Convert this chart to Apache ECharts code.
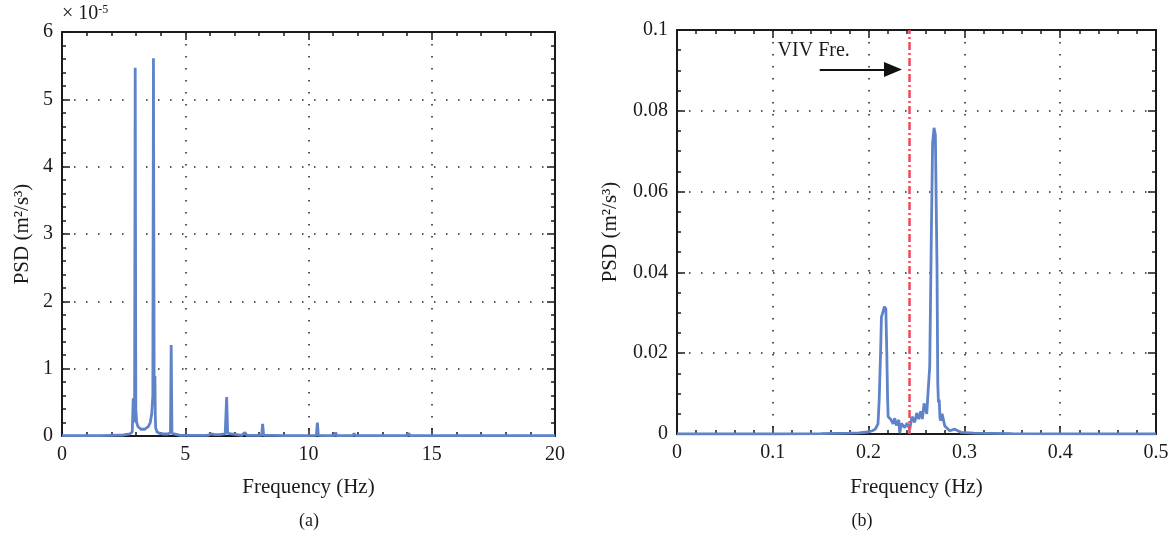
<!DOCTYPE html>
<html>
<head>
<meta charset="utf-8">
<script src="https://cdn.jsdelivr.net/npm/echarts@6/dist/echarts.min.js"></script>
<style>
html,body{margin:0;padding:0;background:#fff;}
#chart{width:1176px;height:539px;}
</style>
</head>
<body>
<div id="chart"></div>
<script>
// ---- Panel (a): PSD in units of 1e-5 m^2/s^3 ----
const freqA = [0, 0.5, 0.75, 0.8, 0.85, 1.5, 2.0, 2.5, 2.75, 2.85, 2.89, 2.92, 2.945, 2.97, 2.995, 3.03, 3.08, 3.2, 3.35, 3.5, 3.58, 3.64, 3.685, 3.71, 3.74, 3.77, 3.785, 3.8, 3.86, 3.95, 4.1, 4.3, 4.4, 4.43, 4.46, 4.52, 4.8, 5.3, 5.9, 6.05, 6.2, 6.4, 6.62, 6.68, 6.72, 6.8, 7.3, 7.42, 7.5, 8.1, 8.14, 8.18, 8.6, 9.0, 9.5, 10.0, 10.32, 10.36, 10.4, 10.6, 11.05, 11.1, 11.15, 11.8, 11.85, 11.9, 12.5, 13.5, 14.0, 14.06, 14.12, 15, 16, 17.7, 17.75, 17.8, 19, 20];
const psdA  = [0.005, 0.005, 0.005, 0.03, 0.005, 0.005, 0.01, 0.015, 0.03, 0.06, 0.56, 0.2, 0.5, 5.47, 0.4, 0.2, 0.14, 0.1, 0.1, 0.14, 0.2, 0.33, 0.6, 5.61, 0.5, 0.89, 0.3, 0.12, 0.06, 0.04, 0.03, 0.03, 0.05, 1.35, 0.04, 0.02, 0.01, 0.01, 0.01, 0.03, 0.02, 0.02, 0.03, 0.58, 0.04, 0.02, 0.01, 0.05, 0.01, 0.01, 0.18, 0.01, 0.01, 0.005, 0.005, 0.005, 0.01, 0.2, 0.01, 0.005, 0.005, 0.05, 0.005, 0.005, 0.04, 0.005, 0.005, 0.005, 0.005, 0.04, 0.005, 0.005, 0.005, 0.005, 0.02, 0.005, 0.005, 0.005];

// ---- Panel (b): PSD in m^2/s^3 ----
const freqB = [0, 0.1, 0.15, 0.18, 0.19, 0.2, 0.204, 0.207, 0.2098, 0.211, 0.2125, 0.2134, 0.215, 0.2165, 0.218, 0.219, 0.2198, 0.2204, 0.2232, 0.2256, 0.2273, 0.229, 0.2315, 0.2325, 0.2342, 0.2359, 0.2377, 0.2401, 0.2429, 0.2453, 0.2481, 0.2502, 0.2523, 0.2544, 0.2561, 0.2579, 0.2593, 0.2607, 0.2621, 0.2638, 0.2655, 0.2668, 0.2683, 0.2697, 0.2714, 0.2722, 0.2729, 0.2737, 0.2745, 0.2753, 0.2767, 0.2795, 0.2847, 0.2899, 0.2968, 0.31, 0.35, 0.5];
const psdB  = [0, 0, 0.0001, 0.0002, 0.0003, 0.0005, 0.0008, 0.0012, 0.0025, 0.008, 0.02, 0.029, 0.0302, 0.0315, 0.031, 0.02, 0.009, 0.0043, 0.0036, 0.0025, 0.0039, 0.0021, 0.0035, 0.0002, 0.0026, 0.003, 0.0016, 0.0027, 0.0012, 0.0043, 0.0029, 0.0052, 0.0037, 0.0056, 0.0037, 0.0076, 0.008, 0.005, 0.0105, 0.0166, 0.0496, 0.072, 0.0758, 0.074, 0.0413, 0.0125, 0.0078, 0.0085, 0.004, 0.0033, 0.005, 0.002, 0.0008, 0.0012, 0.0004, 0.0002, 0.0001, 0];

const vivFreq = 0.242;
const arrowStart = [0.149, 0.0902];
const arrowEnd = [0.2255, 0.0902];
const vivLabelPos = [0.105, 0.0949];

const xTicksA = {min: 0, max: 20, interval: 5};
const yTicksA = {min: 0, max: 6, interval: 1};
const xTicksB = {min: 0, max: 0.5, interval: 0.1};
const yTicksB = {min: 0, max: 0.1, interval: 0.02};

const FONT = 'Liberation Serif';
const BLUE = '#5e83c8';
const INK = '#1a1a1a';

function pairs(xs, ys) { return xs.map((x, i) => [x, ys[i]]); }

function axisBase(t, minorSplit, showLabel, withSplit) {
  return Object.assign({
    type: 'value',
    axisLine: {show: true, onZero: false, lineStyle: {color: INK, width: 2}},
    axisTick: {show: true, inside: true, length: 8, lineStyle: {color: INK, width: 1.5}},
    minorTick: {show: true, splitNumber: minorSplit, length: 4, lineStyle: {color: INK, width: 1.5}},
    axisLabel: {show: showLabel, color: INK, fontFamily: FONT, fontSize: 20, margin: 9},
    splitLine: {show: withSplit, lineStyle: {color: '#222', width: 1.5, type: [1.5, 10.5]}},
    minorSplitLine: {show: false}
  }, t);
}

const nameStyle = {color: INK, fontFamily: FONT, fontSize: 21};

const option = {
  animation: false,
  backgroundColor: '#fff',
  grid: [
    {left: 62, top: 32, width: 493, height: 404},
    {left: 677, top: 30, width: 479, height: 404}
  ],
  xAxis: [
    Object.assign(axisBase(xTicksA, 5, true, true), {gridIndex: 0, position: 'bottom', name: 'Frequency (Hz)', nameLocation: 'middle', nameGap: 41, nameTextStyle: nameStyle}),
    Object.assign(axisBase(xTicksA, 5, false, false), {gridIndex: 0, position: 'top'}),
    Object.assign(axisBase(xTicksB, 5, true, true), {gridIndex: 1, position: 'bottom', name: 'Frequency (Hz)', nameLocation: 'middle', nameGap: 43, nameTextStyle: nameStyle}),
    Object.assign(axisBase(xTicksB, 5, false, false), {gridIndex: 1, position: 'top'})
  ],
  yAxis: [
    Object.assign(axisBase(yTicksA, 5, true, true), {gridIndex: 0, position: 'left', name: 'PSD (m²/s³)', nameLocation: 'middle', nameGap: 29, nameTextStyle: nameStyle}),
    Object.assign(axisBase(yTicksA, 5, false, false), {gridIndex: 0, position: 'right'}),
    Object.assign(axisBase(yTicksB, 4, true, true), {gridIndex: 1, position: 'left', name: 'PSD (m²/s³)', nameLocation: 'middle', nameGap: 56, nameTextStyle: nameStyle}),
    Object.assign(axisBase(yTicksB, 4, false, false), {gridIndex: 1, position: 'right'})
  ],
  series: [
    {
      type: 'line', xAxisIndex: 0, yAxisIndex: 0, data: pairs(freqA, psdA),
      showSymbol: false, symbol: 'none', lineStyle: {color: BLUE, width: 2.8}, z: 3
    },
    {
      type: 'line', xAxisIndex: 2, yAxisIndex: 2, data: pairs(freqB, psdB),
      showSymbol: false, symbol: 'none', lineStyle: {color: BLUE, width: 2.8}, z: 3,
      markLine: {
        silent: true, animation: false,
        data: [
          [{xAxis: vivFreq, yAxis: 0, symbol: 'none', lineStyle: {color: '#ee4c55', width: 2.5, type: [8, 3, 2, 3]}},
           {xAxis: vivFreq, yAxis: 0.1, symbol: 'none'}],
          [{coord: arrowStart, symbol: 'none', lineStyle: {color: '#111', width: 1.8, type: 'solid'}},
           {coord: arrowEnd, symbol: 'triangle', symbolSize: [15, 18]}]
        ],
        label: {show: false}
      },
      markPoint: {
        silent: true, symbol: 'circle', symbolSize: 0,
        data: [{coord: vivLabelPos, value: 'VIV Fre.'}],
        label: {show: true, position: 'right', distance: 0, formatter: 'VIV Fre.', color: INK, fontFamily: FONT, fontSize: 20}
      }
    }
  ],
  graphic: [
    {type: 'text', left: 62, top: 4, style: {
      text: '{a|× 10}{s|-5}', rich: {
        a: {fontFamily: FONT, fontSize: 20, fill: INK, verticalAlign: 'bottom'},
        s: {fontFamily: FONT, fontSize: 12, fill: INK, verticalAlign: 'top', padding: [0, 0, 8, 0]}
      }}},
    {type: 'text', x: 309, y: 521, style: {text: '(a)', fontFamily: FONT, fontSize: 18, fill: INK, align: 'center', verticalAlign: 'middle'}},
    {type: 'text', x: 862, y: 521, style: {text: '(b)', fontFamily: FONT, fontSize: 18, fill: INK, align: 'center', verticalAlign: 'middle'}}
  ]
};

const chart = echarts.init(document.getElementById('chart'), null, {renderer: 'canvas'});
chart.setOption(option);
</script>
</body>
</html>
